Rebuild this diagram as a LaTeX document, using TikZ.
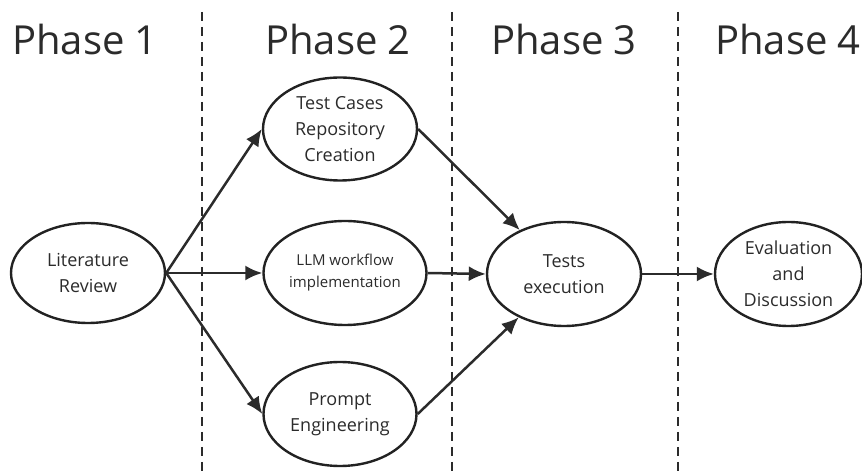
\documentclass[tikz,border=0pt]{standalone}
\usepackage{fontspec}
\setmainfont{Open Sans}
\usetikzlibrary{arrows.meta}
\usetikzlibrary{shapes}
\definecolor{inkgray}{HTML}{2B2B2B}

\tikzset{
  phase/.style={draw=none,anchor=base,font=\fontsize{40bp}{44bp}\selectfont,text=inkgray},
  stage/.style={draw=inkgray!80!black,ellipse,line width=2.4bp,inner sep=0pt,align=center,
    font=\fontsize{18bp}{26bp}\selectfont,text=inkgray},
  flow/.style={draw=inkgray,line width=2.5bp,-{Latex[length=17bp,width=15bp]}},
  divider/.style={draw=inkgray,line width=2.2bp,dash pattern=on 9bp off 6bp}
}

\begin{document}
\begin{tikzpicture}[line join=bevel,]
\useasboundingbox (0bp,0bp) rectangle (862bp,475bp);
%%
\node (phase_1) at (85bp,420bp) [phase] {Phase 1};
  \node (phase_2) at (338bp,420bp) [phase] {Phase 2};
  \node (phase_3) at (564bp,420bp) [phase] {Phase 3};
  \node (phase_4) at (788bp,420bp) [phase] {Phase 4};
  \coordinate (div_1a) at (202bp,463bp);
  \coordinate (div_1b) at (202bp,0bp);
  \coordinate (div_2a) at (452bp,463bp);
  \coordinate (div_2b) at (452bp,0bp);
  \coordinate (div_3a) at (678bp,463bp);
  \coordinate (div_3b) at (678bp,0bp);
  \draw [divider] (div_1a) -- (div_1b);
  \draw [divider] (div_2a) -- (div_2b);
  \draw [divider] (div_3a) -- (div_3b);
  \node (node_lit) at (88bp,202bp) [stage,minimum width=154bp,minimum height=100bp] {Literature\\Review};
  \node (node_tcr) at (340bp,346bp) [stage,minimum width=154bp,minimum height=103bp] {Test Cases\\Repository\\Creation};
  \node (node_llm) at (345bp,202bp) [stage,minimum width=163bp,minimum height=104bp,font=\fontsize{15bp}{22bp}\selectfont] {LLM workflow\\implementation};
  \node (node_pe) at (340bp,61bp) [stage,minimum width=153bp,minimum height=104bp] {Prompt\\Engineering};
  \node (node_te) at (564bp,201bp) [stage,minimum width=154bp,minimum height=104bp] {Tests\\execution};
  \node (node_ed) at (788.5bp,201bp) [stage,minimum width=147bp,minimum height=104bp] {Evaluation\\and\\Discussion};
  \draw [flow] (node_lit.east) -- (node_tcr.west);
  \draw [flow] (node_lit.east) -- (node_llm.west);
  \draw [flow] (node_lit.east) -- (node_pe.west);
  \draw [flow] (node_tcr.east) -- (node_te);
  \draw [flow] (node_llm.east) -- (node_te.west);
  \draw [flow] (node_pe.east) -- (node_te);
  \draw [flow] (node_te.east) -- (node_ed.west);
%
\end{tikzpicture}
\end{document}
